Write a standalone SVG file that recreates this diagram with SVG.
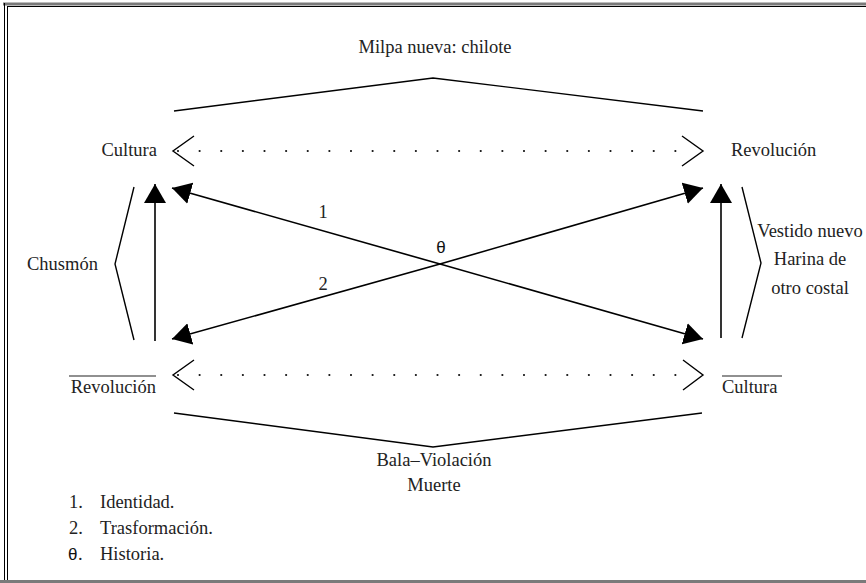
<svg xmlns="http://www.w3.org/2000/svg" width="866" height="583" viewBox="0 0 866 583">
  <style>
    text { font-family: "Liberation Serif", "Times New Roman", serif; font-size: 18.5px; fill: #222; }
    .sym { font-family: "Liberation Sans", "DejaVu Sans", sans-serif; font-size: 17px; fill: #111; }
    .ln { stroke: #000; stroke-width: 1.4; fill: none; }
    .arrow { stroke: #000; stroke-width: 1.6; fill: none; marker-end: url(#head); }
    .dots { stroke: #111; stroke-width: 2.2; stroke-linecap: round; stroke-dasharray: 0 21.625; fill: none; }
    .ov { stroke: #222; stroke-width: 1.2; }
  </style>
  <defs>
    <marker id="head" markerUnits="userSpaceOnUse" markerWidth="20" markerHeight="22" refX="19" refY="11" orient="auto">
      <path d="M0,0 L19,11 L0,22 Z" fill="#000"/>
    </marker>
  </defs>

  <rect width="866" height="583" fill="#fff"/>

  <!-- frame -->
  <g id="frame">
    <line x1="3" y1="4" x2="866" y2="4" stroke="#7a7a7a" stroke-width="3"/>
    <line x1="0" y1="581.5" x2="866" y2="581.5" stroke="#7a7a7a" stroke-width="3"/>
    <line x1="4.5" y1="3" x2="4.5" y2="580" stroke="#000" stroke-width="1"/>
    <line x1="7.5" y1="6.5" x2="7.5" y2="580" stroke="#000" stroke-width="1"/>
    <line x1="7" y1="6.5" x2="866" y2="6.5" stroke="#000" stroke-width="1"/>
  </g>

  <!-- corner concepts -->
  <g id="cultura-top">
    <text x="157" y="156" text-anchor="end">Cultura</text>
  </g>
  <g id="revolucion-top">
    <text x="731" y="156">Revolución</text>
  </g>
  <g id="revolucion-bottom">
    <line class="ov" x1="69" y1="376" x2="156" y2="376"/>
    <text x="156" y="393" text-anchor="end">Revolución</text>
  </g>
  <g id="cultura-bottom">
    <line class="ov" x1="722" y1="376" x2="782" y2="376"/>
    <text x="722" y="393">Cultura</text>
  </g>

  <!-- grouping braces and their labels -->
  <g id="milpa">
    <polyline class="ln" points="174,111 433,78 703,111"/>
    <text x="435" y="53" text-anchor="middle">Milpa nueva: chilote</text>
  </g>
  <g id="bala">
    <polyline class="ln" points="174,413 433,447 702,413"/>
    <text x="434" y="466" text-anchor="middle">Bala–Violación</text>
    <text x="434" y="491" text-anchor="middle">Muerte</text>
  </g>
  <g id="chusmon">
    <polyline class="ln" points="134,187 115,264 134,340"/>
    <text x="27" y="270">Chusmón</text>
  </g>
  <g id="vestido">
    <polyline class="ln" points="742,187 761,263 742,338"/>
    <text x="810" y="237" text-anchor="middle">Vestido nuevo</text>
    <text x="810" y="265" text-anchor="middle">Harina de</text>
    <text x="810" y="294" text-anchor="middle">otro costal</text>
  </g>

  <!-- connectors -->
  <g id="connectors">
    <!-- dotted two-way links -->
    <polyline class="ln" points="194,136 173,151 194,166"/>
    <polyline class="ln" points="682,136 703,151 682,166"/>
    <line class="dots" x1="178" y1="151" x2="697" y2="151"/>
    <polyline class="ln" points="194,360 173,375 194,390"/>
    <polyline class="ln" points="683,360 703,375 683,390"/>
    <line class="dots" x1="178" y1="375" x2="697" y2="375"/>
    <!-- vertical arrows -->
    <line class="arrow" x1="155" y1="341" x2="155" y2="184"/>
    <line class="arrow" x1="721" y1="338" x2="721" y2="184"/>
    <!-- diagonals -->
    <line class="arrow" x1="440" y1="264" x2="172" y2="188"/>
    <line class="arrow" x1="440" y1="264" x2="703" y2="339"/>
    <line class="arrow" x1="440" y1="264" x2="172" y2="339"/>
    <line class="arrow" x1="440" y1="264" x2="703" y2="188"/>
  </g>

  <g id="labels">
    <text x="323" y="218" text-anchor="middle">1</text>
    <text x="323" y="290" text-anchor="middle">2</text>
    <text class="sym" x="441" y="253" text-anchor="middle">θ</text>
  </g>

  <!-- legend -->
  <g id="legend">
    <text x="69" y="508">1.</text>
    <text x="100" y="508">Identidad.</text>
    <text x="69" y="534">2.</text>
    <text x="100" y="534">Trasformación.</text>
    <text class="sym" x="68" y="560">θ</text>
    <text x="78" y="560">.</text>
    <text x="100" y="560">Historia.</text>
  </g>
</svg>
